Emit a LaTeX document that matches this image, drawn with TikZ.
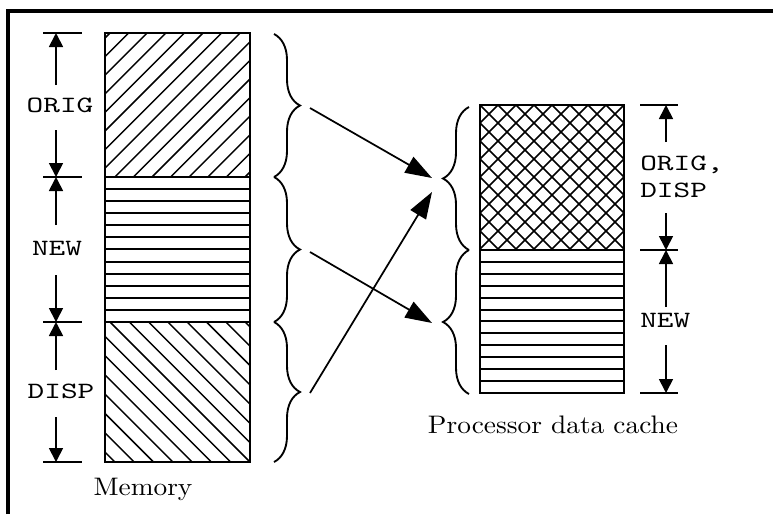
\documentclass[tikz,border=0pt]{standalone}
\usepackage{fontspec}
\usetikzlibrary{arrows.meta,decorations.pathreplacing}
\newfontfamily\dimfont[FakeStretch=1.36]{lmmono10-regular.otf}
\newfontfamily\capfont[FakeStretch=1.08]{lmroman10-regular.otf}
\begin{document}
\begin{tikzpicture}[x=0.75pt,y=-0.75pt,
  frame/.style={line width=2.3pt},
  box/.style={line width=1.7pt},
  hatch/.style={line width=1.1pt},
  hline/.style={line width=1.5pt},
  tick/.style={line width=1.3pt},
  dimline/.style={line width=1.3pt,-{Triangle[length=10.5pt,width=10.5pt]}},
  bigarrow/.style={line width=1.3pt,-{Triangle[length=20pt,width=13.5pt]}},
  brc/.style={decorate,decoration={brace,amplitude=19.5pt},line width=1.4pt},
  dimlabel/.style={font=\dimfont\fontsize{17.5}{20}\selectfont,inner sep=0pt},
  caplabel/.style={font=\capfont\fontsize{19}{22}\selectfont,inner sep=0pt}]
\useasboundingbox (0,0) rectangle (773,514);
% frame
\draw[frame] (8,514) -- (8,11) -- (773,11);

% ---------- memory ----------
\coordinate (mTL) at (105,33);
\coordinate (mA) at (250,177);
\coordinate (mB) at (105,177);
\coordinate (mC) at (250,322);
\coordinate (mD) at (105,322);
\coordinate (mBR) at (250,462);
\begin{scope}
  \clip (mTL) rectangle (mA);
  \foreach \k in {0,...,16} \draw[hatch] ({110+18.6*\k},33) -- ++(-170,170);
\end{scope}
\foreach \k in {1,...,11} \draw[hline] (105,{177+round(145/12*\k)}) -- (250,{177+round(145/12*\k)});
\begin{scope}
  \clip (mD) rectangle (mBR);
  \foreach \k in {-8,...,7} \draw[hatch] ({110+19.3*\k},322) -- ++(170,170);
\end{scope}
\draw[box] (mTL) rectangle (mA);
\draw[box] (mB) rectangle (mC);
\draw[box] (mD) rectangle (mBR);

% ---------- cache ----------
\coordinate (cTL) at (480,105);
\coordinate (cA) at (624,250);
\coordinate (cB) at (480,250);
\coordinate (cBR) at (624,393);
\begin{scope}
  \clip (cTL) rectangle (cA);
  \foreach \k in {0,...,17} \draw[hatch] ({480+18*\k},105) -- ++(-170,170);
  \foreach \k in {-9,...,8} \draw[hatch] ({480+18*\k},105) -- ++(170,170);
\end{scope}
\foreach \k in {1,...,11} \draw[hline] (480,{250+round(143/12*\k)}) -- (624,{250+round(143/12*\k)});
\draw[box] (cTL) rectangle (cA);
\draw[box] (cB) rectangle (cBR);

% ---------- left dimensions ----------
\foreach \y [count=\i] in {33,177,322,462} {
  \coordinate (lt\i) at (56,\y);
  \draw[tick] (43,\y) -- (82,\y);
}
\node[dimlabel,anchor=base] (lORIG) at (60,112) {ORIG};
\node[dimlabel,anchor=base] (lNEW) at (57,255) {NEW};
\node[dimlabel,anchor=base] (lDISP) at (61,398) {DISP};
\coordinate (l1a) at (56,85);  \coordinate (l1b) at (56,130);
\coordinate (l2a) at (56,225); \coordinate (l2b) at (56,275);
\coordinate (l3a) at (56,370); \coordinate (l3b) at (56,417);
\draw[dimline] (l1a) -- (lt1);
\draw[dimline] (l1b) -- (lt2);
\draw[dimline] (l2a) -- (lt2);
\draw[dimline] (l2b) -- (lt3);
\draw[dimline] (l3a) -- (lt3);
\draw[dimline] (l3b) -- (lt4);

% ---------- right dimensions ----------
\foreach \y [count=\i] in {105,250,393} {
  \coordinate (rt\i) at (666,\y);
  \draw[tick] (640,\y) -- (678,\y);
}
\node[dimlabel,anchor=base west] (rORIG) at (640,170) {ORIG,};
\node[dimlabel,anchor=base west] (rDISP) at (640,197) {DISP};
\node[dimlabel,anchor=base west] (rNEW) at (640,327) {NEW};
\coordinate (r1a) at (666,142); \coordinate (r1b) at (666,213);
\coordinate (r2a) at (666,307); \coordinate (r2b) at (666,345);
\draw[dimline] (r1a) -- (rt1);
\draw[dimline] (r1b) -- (rt2);
\draw[dimline] (r2a) -- (rt2);
\draw[dimline] (r2b) -- (rt3);

% ---------- braces ----------
\draw[brc] (274,34) -- (274,177);
\draw[brc] (274,177) -- (274,322);
\draw[brc] (274,322) -- (274,462);
\draw[brc] (469,250) -- (469,107);
\draw[brc] (469,394) -- (469,250);

% ---------- mapping arrows ----------
\coordinate (s1) at (310,108);
\coordinate (s2) at (310,252);
\coordinate (s3) at (310,393);
\coordinate (t1) at (432,178);
\coordinate (t2) at (432,323);
\coordinate (t3) at (432,192);
\draw[bigarrow] (s1) -- (t1);
\draw[bigarrow] (s2) -- (t2);
\draw[bigarrow] (s3) -- (t3);

% ---------- captions ----------
\node[caplabel,anchor=base] (memcap) at (143,495) {Memory};
\node[caplabel,anchor=base] (cachecap) at (553,433) {Processor data cache};
\end{tikzpicture}
\end{document}
